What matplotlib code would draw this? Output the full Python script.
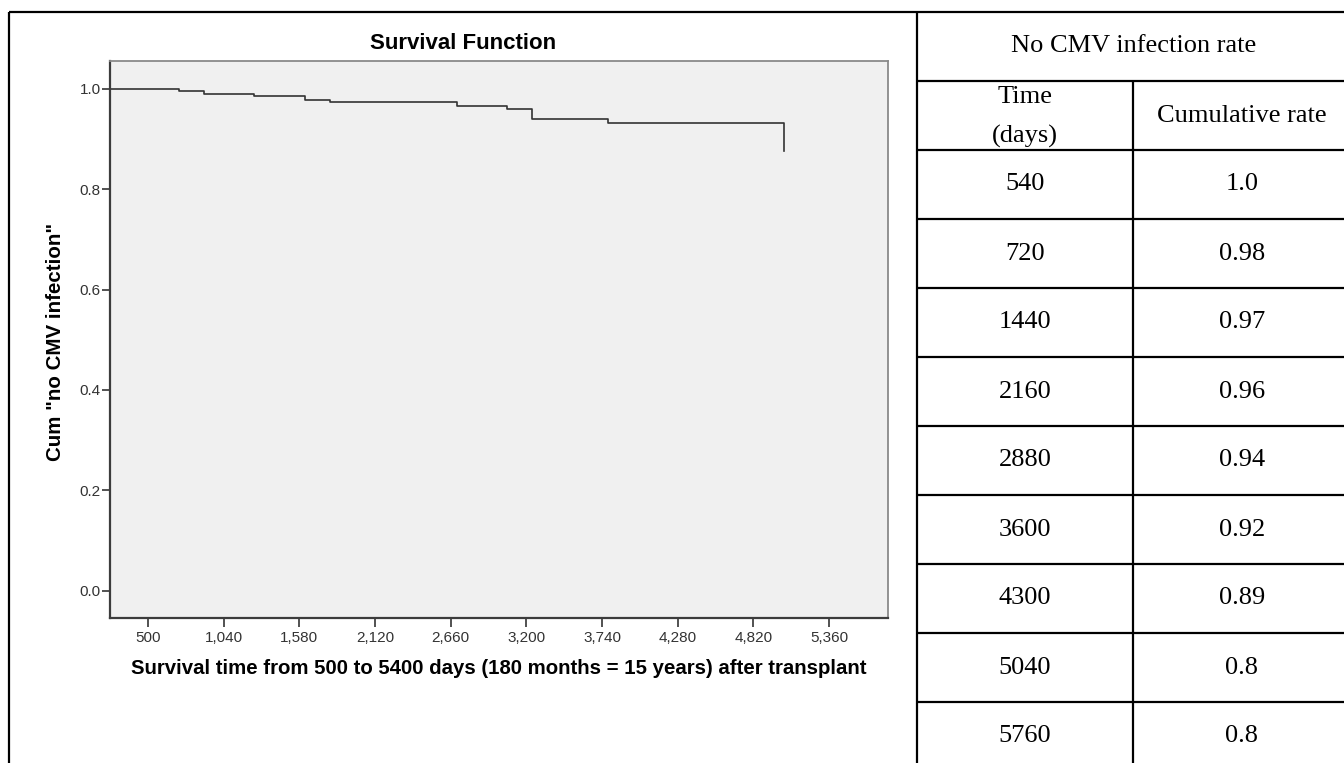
import matplotlib.pyplot as plt
from matplotlib.lines import Line2D

plt.rcParams['font.family'] = ['Liberation Sans', 'DejaVu Sans']

# Kaplan-Meier steps
event_days = [721, 900, 1257, 1621, 1799, 2706, 3063, 3241, 3784, 5040]
cum_no_cmv = [0.9960, 0.9894, 0.9847, 0.9773, 0.9735, 0.9655, 0.9596, 0.9396, 0.9309, 0.8751]

x_ticks = [500, 1040, 1580, 2120, 2660, 3200, 3740, 4280, 4820, 5360]
y_ticks = [0.0, 0.2, 0.4, 0.6, 0.8, 1.0]

# table on the right
table_title = "No CMV infection rate"
col_headers = ["Time\n(days)", "Cumulative rate"]
table_days = ["540", "720", "1440", "2160", "2880", "3600", "4300", "5040", "5760"]
table_rates = ["1.0", "0.98", "0.97", "0.96", "0.94", "0.92", "0.89", "0.8", "0.8"]

W, H = 1344, 763
fig = plt.figure(figsize=(W / 100, H / 100), dpi=100)


def fx(px):
    return px / W


def fy(py):
    return 1 - py / H


def hline(y, x0, x1, lw=1.6):
    fig.add_artist(Line2D([fx(x0), fx(x1)], [fy(y), fy(y)], color='black',
                          lw=lw, transform=fig.transFigure, solid_capstyle='butt'))


def vline(x, y0, y1, lw=1.6):
    fig.add_artist(Line2D([fx(x), fx(x)], [fy(y0), fy(y1)], color='black',
                          lw=lw, transform=fig.transFigure, solid_capstyle='butt'))


# outer frame and divider
hline(12, 9, W)
vline(9, 12, H)
vline(917, 12, H)

# survival plot
ax = fig.add_axes([fx(110), fy(618), fx(888) - fx(110), fy(61) - fy(618)])
ax.set_facecolor('#f0f0f0')
ax.step([0] + event_days, [1.0] + cum_no_cmv, where='post', color='#333333', lw=1.2)
ax.set_xlim(229, 5781)
ax.set_ylim(-0.054, 1.055)
ax.set_xticks(x_ticks)
ax.set_xticklabels([f"{v:,}" for v in x_ticks])
ax.set_yticks(y_ticks)
ax.set_yticklabels([f"{v:.1f}" for v in y_ticks])
ax.tick_params(axis='both', labelsize=11, labelcolor='#333333', color='#333333', width=1.2)
ax.tick_params(axis='x', length=6.5, pad=3)
ax.tick_params(axis='y', length=5.5, pad=1)
for side in ['left', 'bottom']:
    ax.spines[side].set_color('#3c3c3c')
    ax.spines[side].set_linewidth(1.6)
for side in ['top', 'right']:
    ax.spines[side].set_color('#8a8a8a')
    ax.spines[side].set_linewidth(1.3)

ax.set_xlabel("Survival time from 500 to 5400 days (180 months = 15 years) after transplant",
              fontsize=14.7, fontweight='bold', labelpad=10)
fig.text(fx(56), fy(342), 'Cum "no CMV infection"', rotation=90, fontsize=14.8,
         fontweight='bold', ha='center', va='center')
fig.text(fx(463), fy(43.5), "Survival Function", fontsize=16, fontweight='bold',
         ha='center', va='center')

# table
tx0, tx_mid, tx1 = 917, 1133, 1351
row_top = 150
row_h = 69.0
serif = dict(family='Liberation Serif', fontsize=19, ha='center', va='center')

hline(81, tx0, W)
hline(150, tx0, W)
vline(tx_mid, 81, H)
fig.text(fx((tx0 + tx1) / 2), fy(46.5), table_title, **serif)
fig.text(fx((tx0 + tx_mid) / 2), fy(117), col_headers[0], linespacing=2.0, **serif)
fig.text(fx((tx_mid + tx1) / 2), fy(115.5), col_headers[1], **serif)
for i, (d, r) in enumerate(zip(table_days, table_rates)):
    y_top = row_top + i * row_h
    if i > 0:
        hline(y_top, tx0, W)
    yc = y_top + row_h / 2
    fig.text(fx((tx0 + tx_mid) / 2), fy(yc), d, **serif)
    fig.text(fx((tx_mid + tx1) / 2), fy(yc), r, **serif)

fig.savefig("out.png", dpi=100)
